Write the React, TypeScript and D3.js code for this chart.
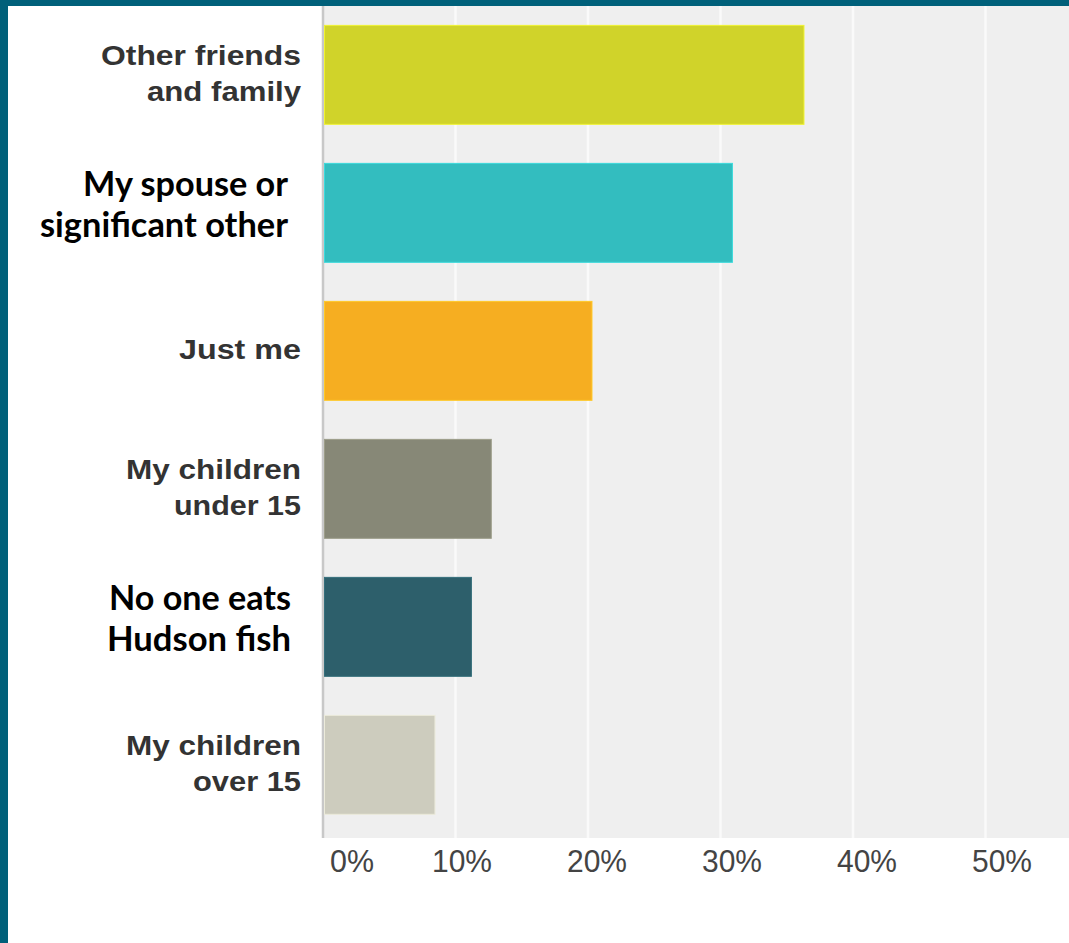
import React from "react";
import * as d3 from "d3";

const categories: string[][] = [
  ["Other friends", "and family"],
  ["My spouse or", "significant other"],
  ["Just me"],
  ["My children", "under 15"],
  ["No one eats", "Hudson fish"],
  ["My children", "over 15"],
];
const values: number[] = [0.363, 0.309, 0.203, 0.127, 0.112, 0.0845];
const colors: string[] = ["#d0d32a", "#33bdbf", "#f6ae21", "#878877", "#2d5f6b", "#cdccbe"];
const highlighted: boolean[] = [false, true, false, false, true, false];
const ticks: number[] = [0, 0.1, 0.2, 0.3, 0.4, 0.5];
const tickLabels: string[] = ["0%", "10%", "20%", "30%", "40%", "50%"];

const W = 1069;
const H = 943;

export default function App() {
  const plotLeft = 323;
  const plotTop = 6;
  const plotBottom = 838;
  const x = d3.scaleLinear().domain([0, 0.5]).range([plotLeft, 985.5]);
  const y = d3
    .scaleBand<number>()
    .domain(d3.range(categories.length))
    .range([plotTop, plotBottom])
    .paddingInner(0.283)
    .paddingOuter(0.156)
    .align(0.45);
  const labelX = d3.scaleLinear().domain([0.1, 0.5]).range([462, 1002]);
  const bw = y.bandwidth();

  return (
    <svg
      width={W}
      height={H}
      style={{ position: "absolute", left: 0, top: 0, background: "#fff" }}
    >
      <rect x={0} y={0} width={W} height={H} fill="#fff" />
      <rect x={plotLeft} y={plotTop} width={W - plotLeft} height={plotBottom - plotTop} fill="#efefef" />
      {ticks.slice(1).map((t) => (
        <line key={t} x1={x(t)} x2={x(t)} y1={plotTop} y2={plotBottom} stroke="#fafafa" strokeWidth={2.5} />
      ))}
      <line x1={plotLeft} x2={plotLeft} y1={plotTop} y2={plotBottom} stroke="#c8c8c8" strokeWidth={2.5} />
      {values.map((v, i) => (
        <rect
          key={i}
          x={x(0) + 1.5}
          y={y(i)!}
          width={x(v) - x(0) - 1.5}
          height={bw}
          fill={colors[i]}
          stroke={d3.color(colors[i])!.brighter(0.4).formatHex()}
          strokeWidth={1}
        />
      ))}
      {categories.map((lines, i) => {
        const c = y(i)! + bw / 2;
        if (highlighted[i]) {
          const right = i === 1 ? 288 : 291;
          const widths = i === 1 ? [205, 248] : [182, 184];
          return (
            <g key={i} fontFamily="Lato, 'Open Sans', sans-serif" fontWeight={700} fontSize={35} fill="#000">
              {lines.map((ln, j) => (
                <text
                  key={j}
                  x={right}
                  y={c + (j === 0 ? -16.5 : 24)}
                  textAnchor="end"
                  textLength={widths[j]}
                  lengthAdjust="spacingAndGlyphs"
                >
                  {ln}
                </text>
              ))}
            </g>
          );
        }
        const twoLine = lines.length === 2;
        const widthsMap: Record<string, number> = {
          "Other friends": 200,
          "and family": 154,
          "Just me": 122,
          "My children": 175,
          "under 15": 127,
          "over 15": 108,
        };
        return (
          <g key={i} fontFamily="'Liberation Sans', Arial, sans-serif" fontWeight={700} fontSize={28} fill="#333">
            {lines.map((ln, j) => (
              <text
                key={j}
                x={301}
                y={twoLine ? c + (j === 0 ? -10 : 26) : c + 8}
                textAnchor="end"
                textLength={widthsMap[ln]}
                lengthAdjust="spacingAndGlyphs"
              >
                {ln}
              </text>
            ))}
          </g>
        );
      })}
      {ticks.map((t, i) => {
        const left = t === 0 ? x(0) + 7 : labelX(t) - 30;
        return (
          <text
            key={t}
            x={left}
            y={872}
            fontFamily="'Liberation Sans', Arial, sans-serif"
            fontSize={32}
            fill="#444"
            textLength={t === 0 ? 44 : 60}
            lengthAdjust="spacingAndGlyphs"
          >
            {tickLabels[i]}
          </text>
        );
      })}
      <rect x={0} y={0} width={W} height={6} fill="#00607a" />
      <rect x={0} y={0} width={8} height={H} fill="#00607a" />
    </svg>
  );
}
